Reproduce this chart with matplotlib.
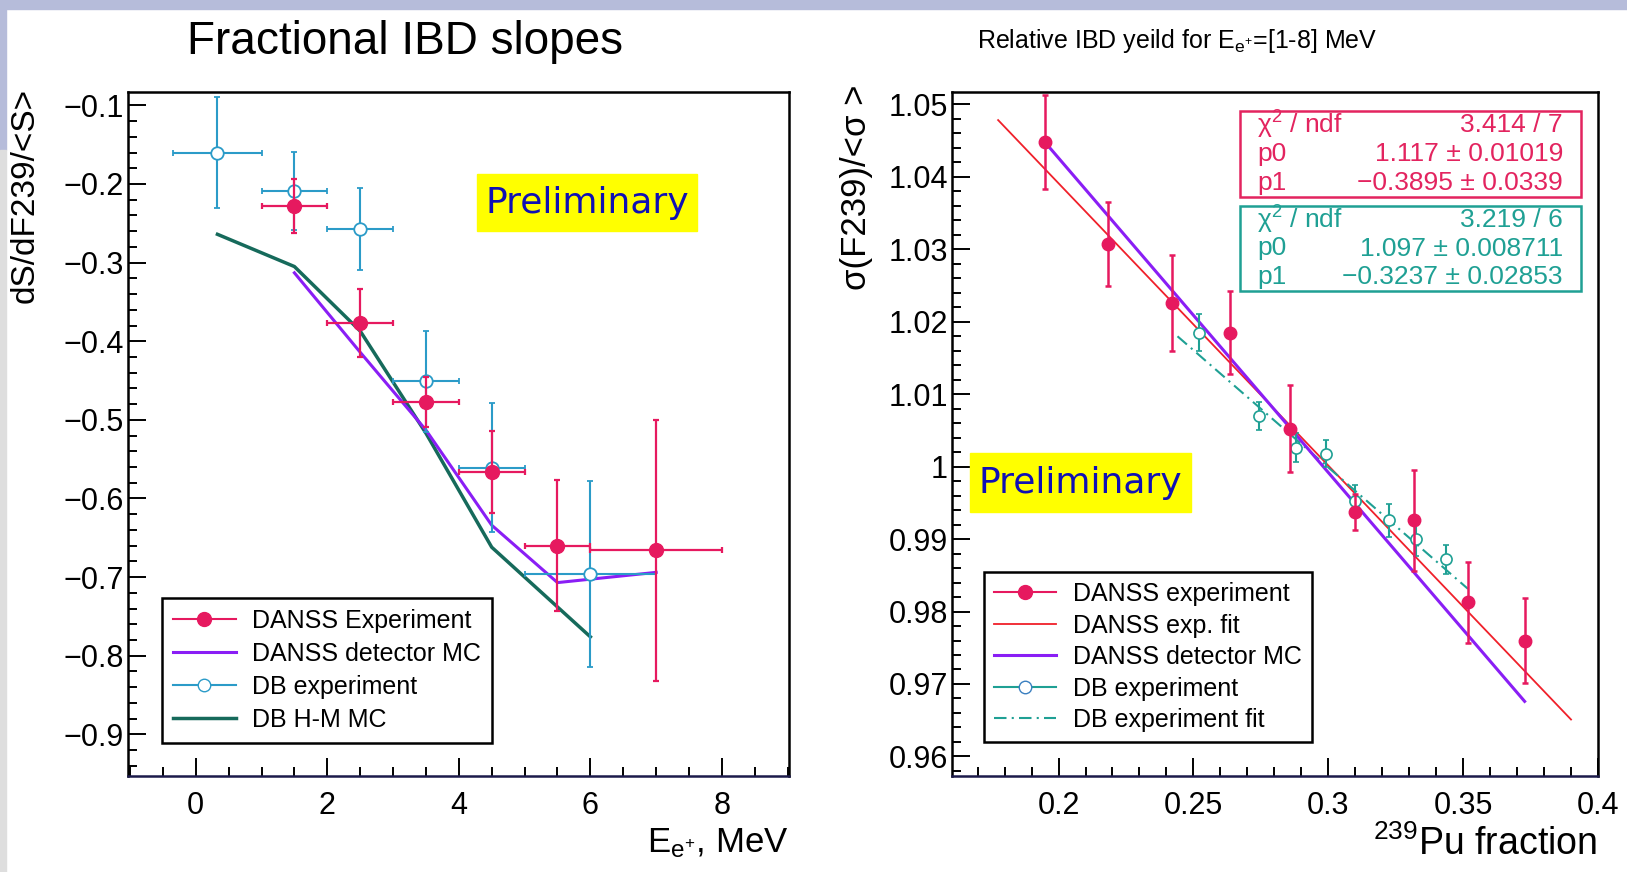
import matplotlib
matplotlib.use("Agg")
import matplotlib.pyplot as plt
from matplotlib.lines import Line2D
from matplotlib.patches import Rectangle
from matplotlib.ticker import MultipleLocator, FuncFormatter

W, H = 1627, 872

# ---- left panel: fractional IBD slopes ------------------------------------
danss_x = [1.5, 2.5, 3.5, 4.5, 5.5, 7.0]
danss_xerr = [0.5, 0.5, 0.5, 0.5, 0.5, 1.0]
danss_y = [-0.228, -0.377, -0.477, -0.566, -0.660, -0.666]
danss_yerr = [0.034, 0.043, 0.032, 0.052, 0.083, 0.166]

db_x = [0.33, 1.5, 2.5, 3.5, 4.5, 6.0]
db_xerr = [0.67, 0.5, 0.5, 0.5, 0.5, 1.0]
db_y = [-0.160, -0.209, -0.257, -0.451, -0.561, -0.696]
db_yerr = [0.071, 0.050, 0.052, 0.064, 0.082, 0.118]

danss_mc_x = [1.5, 2.5, 3.5, 4.5, 5.5, 7.0]
danss_mc_y = [-0.313, -0.414, -0.513, -0.634, -0.707, -0.694]

hm_x = [0.33, 1.5, 2.5, 3.5, 4.5, 6.0]
hm_y = [-0.264, -0.305, -0.387, -0.517, -0.662, -0.776]

# ---- right panel: relative IBD yield vs 239Pu fraction ---------------------
danss_f = [0.1949, 0.2184, 0.2419, 0.2636, 0.2857, 0.3100, 0.3316, 0.3518, 0.3728]
danss_r = [1.0448, 1.0307, 1.0226, 1.0185, 1.0052, 0.9937, 0.9926, 0.9813, 0.9760]
danss_rerr = [0.0065, 0.0058, 0.0066, 0.0057, 0.0060, 0.0025, 0.0070, 0.0056, 0.0058]

db_f = [0.2522, 0.2743, 0.2879, 0.2993, 0.3100, 0.3224, 0.3324, 0.3438]
db_r = [1.0185, 1.0070, 1.0026, 1.0018, 0.9953, 0.9926, 0.9900, 0.9872]
db_rerr = [0.0026, 0.0019, 0.0020, 0.0019, 0.0022, 0.0023, 0.0024, 0.0020]

mc_f = [0.1949, 0.3728]
mc_r = [1.0448, 0.9676]

# fit parameters as printed in the stat boxes, and their drawn ranges
danss_p0, danss_p1 = 1.117, -0.3895
danss_fit_f = [0.1776, 0.390]
db_p0, db_p1 = 1.097, -0.3237
db_fit_f = [0.2441, 0.3518]

danss_stats = [("χ$^{2}$ / ndf", "3.414 / 7"),
               ("p0", "1.117 ± 0.01019"),
               ("p1", "−0.3895 ± 0.0339")]
db_stats = [("χ$^{2}$ / ndf", "3.219 / 6"),
            ("p0", "1.097 ± 0.008711"),
            ("p1", "−0.3237 ± 0.02853")]

C_RED = "#e6195f"
C_FIT = "#f0202a"
C_PURPLE = "#8a1ef5"
C_DB = "#2b9bc8"
C_HM = "#166a5b"
C_TEAL = "#1fa094"
C_PRELIM = "#1010b4"

plt.rcParams["font.family"] = ["Liberation Sans", "DejaVu Sans"]
plt.rcParams["mathtext.fontset"] = "custom"
plt.rcParams["mathtext.rm"] = "Liberation Sans"
plt.rcParams["mathtext.it"] = "Liberation Sans:italic"
plt.rcParams["mathtext.default"] = "regular"


def fx(px):
    return px / W


def fy(py):
    return 1 - py / H


def gfmt(v, _pos):
    s = f"{v:.3g}"
    if s in ("-0", "0.0"):
        s = "0"
    return s.replace("-", "\u2212")


def style_axes(ax):
    for name, sp in ax.spines.items():
        sp.set_linewidth(1.8)
        sp.set_color("#1c1a4a" if name == "bottom" else "black")
    ax.tick_params(which="both", direction="in", top=False, right=False,
                   width=1.4, labelsize=22, color="black")
    ax.tick_params(which="major", length=13)
    ax.tick_params(which="minor", length=6.5)
    ax.tick_params(axis="x", pad=11)
    ax.tick_params(axis="y", pad=3)
    ax.xaxis.set_major_formatter(FuncFormatter(gfmt))
    ax.yaxis.set_major_formatter(FuncFormatter(gfmt))


fig = plt.figure(figsize=(W / 100, H / 100), dpi=100)
fig.patch.set_facecolor("white")

# slide border
fig.patches.append(Rectangle((0, fy(9)), 1, 9 / H, transform=fig.transFigure,
                             color="#b6bcda", zorder=0))
fig.patches.append(Rectangle((0, fy(150)), fx(6), 150 / H, transform=fig.transFigure,
                             color="#b6bcda", zorder=0))
fig.patches.append(Rectangle((0, 0), fx(6), fy(150), transform=fig.transFigure,
                             color="#dedede", zorder=0))

# ============================ left panel ====================================
axL = fig.add_axes([fx(128), fy(776), (789 - 128) / W, (776 - 92) / H])
axL.set_xlim(-1.03, 9.02)
axL.set_ylim(-0.953, -0.083)
axL.xaxis.set_major_locator(MultipleLocator(2))
axL.xaxis.set_minor_locator(MultipleLocator(0.5))
axL.yaxis.set_major_locator(MultipleLocator(0.1))
axL.yaxis.set_minor_locator(MultipleLocator(0.02))
style_axes(axL)

axL.plot(hm_x, hm_y, color=C_HM, lw=2.5, zorder=2)
axL.plot(danss_mc_x, danss_mc_y, color=C_PURPLE, lw=2.2, zorder=2)
axL.errorbar(db_x, db_y, xerr=db_xerr, yerr=db_yerr, fmt="o", ms=9,
             mfc="white", mec=C_DB, mew=1.3, ecolor=C_DB, elinewidth=1.5,
             capsize=2, capthick=1.5, zorder=3)
axL.errorbar(danss_x, danss_y, xerr=danss_xerr, yerr=danss_yerr, fmt="o",
             ms=10, color=C_RED, ecolor=C_RED, elinewidth=1.6,
             capsize=2, capthick=1.6, zorder=4)

hL = [Line2D([], [], color=C_RED, marker="o", ms=10, lw=1.5),
      Line2D([], [], color=C_PURPLE, lw=2.2),
      Line2D([], [], color=C_DB, marker="o", ms=9, mfc="white", lw=1.5),
      Line2D([], [], color=C_HM, lw=2.5)]
legL = axL.legend(hL, ["DANSS Experiment", "DANSS detector MC", "DB experiment",
                       "DB H-M MC"],
                  loc="lower left", bbox_to_anchor=(0.0514, 0.048), fontsize=18,
                  frameon=True, fancybox=False, edgecolor="black", framealpha=1,
                  handlelength=2.5, handletextpad=0.65, labelspacing=0.36,
                  borderpad=0.45, borderaxespad=0)
legL.get_frame().set_linewidth(1.8)

fig.text(fx(405), fy(42), "Fractional IBD slopes", fontsize=33,
         ha="center", va="center")
fig.text(fx(25), fy(88), "dS/dF239/<S>", fontsize=24, rotation=90,
         ha="center", va="top")
fig.text(fx(788), fy(852), r"E$_{e^{+}}$, MeV", fontsize=25,
         ha="right", va="baseline")

fig.patches.append(Rectangle((fx(477), fy(231)), (697 - 477) / W, (231 - 174) / H,
                             transform=fig.transFigure, color="#ffff00", zorder=5))
fig.text(fx(587), fy(203), "Preliminary", fontsize=26, color=C_PRELIM,
         family="DejaVu Sans", ha="center", va="center", zorder=6)

# ============================ right panel ===================================
axR = fig.add_axes([fx(952), fy(776), (1598 - 952) / W, (776 - 92) / H])
axR.set_xlim(0.1605, 0.40)
axR.set_ylim(0.9573, 1.0517)
axR.xaxis.set_major_locator(MultipleLocator(0.05))
axR.xaxis.set_minor_locator(MultipleLocator(0.01))
axR.yaxis.set_major_locator(MultipleLocator(0.01))
axR.yaxis.set_minor_locator(MultipleLocator(0.002))
style_axes(axR)

fit_r = [danss_p0 + danss_p1 * f for f in danss_fit_f]
axR.plot(danss_fit_f, fit_r, color=C_FIT, lw=1.3, zorder=2)
dbfit_r = [db_p0 + db_p1 * f for f in db_fit_f]
axR.plot(db_fit_f, dbfit_r, color=C_TEAL, lw=1.5, dashes=(6, 2.5, 1, 2.5), zorder=2)
axR.plot(mc_f, mc_r, color=C_PURPLE, lw=2.2, zorder=2)
axR.errorbar(db_f, db_r, yerr=db_rerr, fmt="o", ms=8, mfc="white", mec=C_TEAL,
             mew=1.2, ecolor=C_TEAL, elinewidth=1.5, capsize=2, capthick=1.5,
             zorder=3)
axR.errorbar(danss_f, danss_r, yerr=danss_rerr, fmt="o", ms=9, color=C_RED,
             ecolor=C_RED, elinewidth=1.8, capsize=2, capthick=1.8, zorder=4)

hR = [Line2D([], [], color=C_RED, marker="o", ms=10, lw=1.5),
      Line2D([], [], color=C_FIT, lw=1.3),
      Line2D([], [], color=C_PURPLE, lw=2.2),
      Line2D([], [], color=C_TEAL, marker="o", ms=9, mfc="white", mec="#3a7fc0",
             lw=1.5),
      Line2D([], [], color=C_TEAL, lw=1.5, dashes=(6, 2.5, 1, 2.5))]
legR = axR.legend(hR, ["DANSS experiment", "DANSS exp. fit", "DANSS detector MC",
                       "DB experiment", "DB experiment fit"],
                  loc="lower left", bbox_to_anchor=(0.0495, 0.0497), fontsize=18,
                  frameon=True, fancybox=False, edgecolor="black", framealpha=1,
                  handlelength=2.5, handletextpad=0.65, labelspacing=0.3,
                  borderpad=0.4, borderaxespad=0)
legR.get_frame().set_linewidth(1.8)

# stat boxes
for stats, color, top, bot in ((danss_stats, "#e3245f", 111, 197),
                               (db_stats, C_TEAL, 206, 291)):
    fig.patches.append(Rectangle((fx(1240), fy(bot)), (1581 - 1240) / W,
                                 (bot - top) / H, transform=fig.transFigure,
                                 facecolor="white", edgecolor=color, lw=1.8,
                                 zorder=5))
    step = (bot - top) / 3
    for i, (name, val) in enumerate(stats):
        yc = top + step * (i + 0.5)
        fig.text(fx(1257), fy(yc), name, fontsize=19, color=color,
                 ha="left", va="center", zorder=6)
        fig.text(fx(1563), fy(yc), val, fontsize=19, color=color,
                 ha="right", va="center", zorder=6)

fig.text(fx(1177), fy(41), r"Relative IBD yeild for E$_{e^{+}}$=[1-8] MeV",
         fontsize=18, ha="center", va="center")
fig.text(fx(857), fy(84), "σ(F239)/<σ >", fontsize=25, rotation=90,
         ha="center", va="top")
fig.text(fx(1597), fy(855), r"$^{239}$Pu fraction", fontsize=27,
         ha="right", va="baseline")

fig.patches.append(Rectangle((fx(970), fy(512)), (1191 - 970) / W, (512 - 453) / H,
                             transform=fig.transFigure, color="#ffff00", zorder=5))
fig.text(fx(1080), fy(483), "Preliminary", fontsize=26, color=C_PRELIM,
         family="DejaVu Sans", ha="center", va="center", zorder=6)

fig.savefig("out.png", dpi=100)
